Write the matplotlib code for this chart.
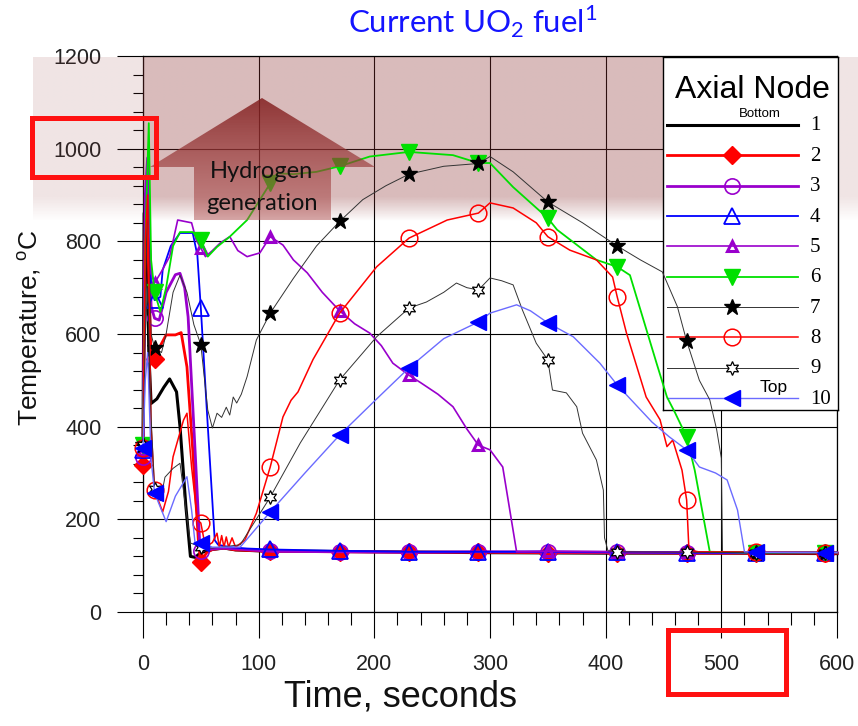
import numpy as np
import matplotlib.pyplot as plt
from matplotlib.patches import Polygon, Rectangle
from matplotlib.lines import Line2D

# time (s) / temperature (C) per axial node
t1 = [0, 1, 3, 5, 7, 12, 18, 23, 29, 32, 37, 41, 45, 50, 60, 70, 80, 100, 200, 300, 400, 500, 600]
T1 = [360, 860, 880, 560, 450, 460, 485, 503, 475, 400, 230, 120, 118, 128, 135, 138, 134, 132, 130, 128, 127, 127, 126]

t2 = [0, 2, 4, 7, 10, 14, 20, 28, 33, 38, 43, 48, 50, 55, 60, 70, 80, 110, 170, 230, 290, 350, 410, 470, 530, 590, 600]
T2 = [317, 860, 820, 545, 545, 570, 598, 598, 603, 529, 350, 149, 108, 128, 135, 138, 134, 131, 130, 129, 129, 128, 128, 127, 127, 127, 127]

t3 = [0, 2, 4, 7, 10, 14, 20, 28, 32, 36, 39, 45, 49, 50, 55, 70, 110, 170, 230, 290, 350, 410, 470, 530, 590, 600]
T3 = [335, 900, 980, 660, 634, 630, 690, 728, 731, 700, 637, 350, 150, 132, 135, 138, 131, 130, 129, 130, 130, 129, 128, 128, 128, 128]

t4 = [0, 2, 4, 7, 10, 15, 17, 24, 32, 43, 47, 50, 55, 62, 65, 75, 90, 110, 170, 230, 290, 350, 410, 470, 530, 590, 600]
T4 = [350, 800, 930, 700, 673, 680, 738, 790, 818, 818, 770, 656, 443, 155, 145, 140, 137, 135, 132, 130, 130, 130, 129, 128, 128, 128, 128]

t5 = [0, 2, 4, 7, 10, 16, 23, 30, 42, 46, 50, 54, 60, 67, 75, 82, 90, 101, 110, 121, 130, 142, 155, 170,
      183, 196, 206, 216, 230, 240, 255, 268, 280, 290, 300, 311, 323, 330, 350, 410, 470, 530, 590, 600]
T5 = [350, 850, 950, 730, 710, 735, 767, 846, 840, 803, 785, 767, 780, 797, 810, 780, 767, 775, 810, 792, 760, 732, 690, 650,
      622, 602, 575, 537, 511, 495, 470, 443, 395, 360, 350, 313, 130, 130, 131, 130, 129, 129, 128, 128]

t6 = [0, 2, 5, 7, 10, 15, 20, 26, 32, 43, 50, 56, 64, 75, 90, 110, 116, 130, 150, 170, 196, 230, 268, 290, 300,
      320, 350, 358, 392, 410, 421, 444, 453, 460, 470, 477, 490, 530, 590, 600]
T6 = [360, 800, 1055, 760, 690, 648, 700, 790, 820, 820, 803, 767, 788, 810, 846, 925, 947, 945, 950, 962, 983, 993, 986, 969, 969,
      917, 850, 825, 760, 745, 727, 537, 464, 430, 378, 306, 130, 128, 128, 128]

t7 = [0, 2, 4, 7, 10, 16, 20, 26, 32, 38, 44, 50, 56, 60, 64, 68, 72, 75, 78, 81, 85, 90, 98, 110, 130, 150, 170, 190,
      210, 230, 260, 290, 300, 320, 350, 380, 410, 430, 449, 462, 470, 481, 490, 496, 500, 501, 530, 590, 600]
T7 = [360, 700, 880, 600, 570, 560, 600, 690, 727, 690, 620, 577, 436, 397, 429, 420, 442, 425, 464, 451, 470, 508, 587, 645, 720, 790, 843, 890,
      920, 945, 962, 968, 983, 950, 885, 840, 790, 760, 734, 659, 585, 500, 458, 393, 332, 130, 128, 127, 127]

t8 = [0, 2, 4, 7, 10, 17, 22, 26, 35, 38, 42, 47, 50, 54, 60, 64, 66, 68, 70, 72, 74, 77, 80, 88, 98, 110, 121, 128, 134, 147,
      170, 202, 230, 263, 290, 300, 320, 340, 350, 369, 392, 406, 410, 418, 435, 447, 453, 458, 466, 470, 472, 480, 530, 590, 600]
T8 = [355, 800, 900, 400, 263, 216, 260, 335, 414, 429, 313, 199, 192, 140, 150, 170, 140, 165, 140, 162, 140, 160, 140, 155, 213, 313, 421, 457, 475, 545,
      645, 745, 807, 846, 861, 883, 872, 840, 810, 781, 760, 723, 680, 602, 464, 415, 357, 371, 306, 242, 134, 130, 129, 128, 128]

t9 = [0, 2, 4, 7, 10, 15, 19, 26, 32, 36, 41, 50, 60, 84, 110, 136, 170, 202, 230, 245, 260, 271, 280, 290, 300, 310,
      320, 328, 340, 350, 354, 366, 375, 380, 392, 398, 399, 402, 410, 470, 530, 590, 600]
T9 = [360, 600, 700, 420, 265, 240, 291, 310, 321, 242, 149, 140, 138, 145, 248, 365, 501, 594, 656, 669, 690, 710, 700, 695, 721, 715,
      706, 652, 580, 544, 479, 473, 443, 386, 328, 263, 160, 132, 130, 129, 128, 128, 128]

t10 = [0, 2, 4, 7, 10, 20, 28, 38, 42, 45, 50, 60, 84, 110, 140, 170, 200, 230, 260, 290, 300, 323, 335, 350, 372, 395,
       410, 440, 455, 470, 481, 495, 505, 514, 520, 530, 590, 600]
T10 = [354, 500, 560, 330, 257, 195, 250, 292, 220, 149, 149, 140, 140, 216, 300, 382, 455, 527, 590, 626, 645, 663, 650, 624, 594, 537,
       490, 410, 378, 350, 313, 300, 285, 220, 130, 129, 128, 128]

times = [t1, t2, t3, t4, t5, t6, t7, t8, t9, t10]
temps = [T1, T2, T3, T4, T5, T6, T7, T8, T9, T10]
node_labels = ['1', '2', '3', '4', '5', '6', '7', '8', '9', '10']
mark_t = [0, 10, 50, 110, 170, 230, 290, 350, 410, 470, 530, 590]

x_ticks = [0, 100, 200, 300, 400, 500, 600]
y_ticks = [0, 200, 400, 600, 800, 1000, 1200]

styles = [
    dict(color='black', lw=2.2, marker=None),
    dict(color='#ff0000', lw=2.0, marker='D', ms=9, mfc='#ff0000', mec='#ff0000'),
    dict(color='#9900cc', lw=2.0, marker='o', ms=11, mfc='none', mec='#9900cc', mew=1.2),
    dict(color='#0000ff', lw=1.3, marker='^', ms=11, mfc='none', mec='#0000ff', mew=1.3),
    dict(color='#9900cc', lw=1.2, marker='^', ms=7, mfc='none', mec='#9900cc', mew=2.2),
    dict(color='#00e000', lw=1.3, marker='v', ms=11, mfc='#00e000', mec='#00e000'),
    dict(color='#333333', lw=0.7, marker='*', ms=12, mfc='black', mec='black'),
    dict(color='#ff0000', lw=1.1, marker='o', ms=12, mfc='none', mec='#ff0000', mew=1.1),
    dict(color='#333333', lw=0.7, marker=(6, 1, 0), ms=10, mfc='white', mec='black', mew=0.9),
    dict(color='#6b6bff', lw=1.0, marker='<', ms=11, mfc='#0000ff', mec='#0000ff'),
]

W, H = 858, 726
fig = plt.figure(figsize=(W / 100, H / 100), dpi=100, facecolor='white')
rect = [143 / W, 1 - 612 / H, (837 - 143) / W, (612 - 56) / H]

# grid / ticks axes at the bottom
ax = fig.add_axes(rect, zorder=0)
ax.set_xlim(0, 600)
ax.set_ylim(0, 1200)
ax.set_xticks(x_ticks)
ax.set_yticks(y_ticks)
ax.set_xticks(np.arange(0, 601, 20), minor=True)
ax.set_yticks(np.arange(0, 1201, 40), minor=True)
ax.grid(True, which='major', color='black', lw=0.8)
ax.tick_params(which='major', direction='out', length=19, width=0.8, pad=11,
               labelsize=15.5, labelcolor='#222222')
ax.tick_params(axis='x', which='minor', direction='out', length=9.5, width=0.8)
ax.tick_params(axis='y', which='minor', direction='out', length=7.5, width=0.8)
for lab in ax.get_xticklabels() + ax.get_yticklabels():
    lab.set_family('Liberation Sans')
for s in ax.spines.values():
    s.set_linewidth(0.9)

def pixel_axes(z):
    a = fig.add_axes([0, 0, 1, 1], zorder=z)
    a.set_xlim(0, W)
    a.set_ylim(H, 0)
    a.axis('off')
    a.patch.set_visible(False)
    return a

# shaded band behind the curves
ovb = pixel_axes(1)

def band(x0, x1, y0, y1, alpha):
    n = 100
    prof = np.ones(n)
    yy = np.linspace(y0, y1, n)
    fade = yy > y1 - 25
    prof[fade] = (y1 - yy[fade]) / 25
    img = np.zeros((n, 2, 4))
    img[..., 0] = 140 / 255
    img[..., 1] = 50 / 255
    img[..., 2] = 50 / 255
    img[..., 3] = (alpha * prof)[:, None]
    ovb.imshow(img, extent=(x0, x1, y1, y0), aspect='auto', interpolation='bilinear')

band(33, 858, 57, 222, 0.13)
band(143, 837, 57, 222, 0.23)

# legend box drawn by hand (under the curves, over the grid)
lg = fig.add_axes([663 / W, 1 - 410 / H, 175 / W, 353 / H], zorder=2)
lg.set_xlim(663, 838)
lg.set_ylim(410, 57)
lg.set_xticks([])
lg.set_yticks([])
lg.set_facecolor('white')
for s in lg.spines.values():
    s.set_linewidth(1.0)
lg.text(752, 90, 'Axial Node', ha='center', va='center', fontsize=23, family='Liberation Sans')
ys = np.linspace(125, 398, 10)
for yv, st, lab in zip(ys, styles, node_labels):
    lg.add_line(Line2D([667, 798], [yv, yv], color=st['color'], lw=st['lw']))
    if st['marker']:
        lg.plot([732], [yv], ls='none', marker=st['marker'], ms=st['ms'], mfc=st['mfc'],
                mec=st['mec'], mew=st.get('mew', 1.0))
    lg.text(810, yv + 1, lab, ha='left', va='center', fontsize=15, family='Liberation Serif')
lg.text(760, 114, 'Bottom', ha='center', va='center', fontsize=9.5, family='Liberation Sans')
lg.text(774, 387, 'Top', ha='center', va='center', fontsize=12.5, family='Liberation Sans')

# curves on top of legend
axd = fig.add_axes(rect, zorder=3)
axd.set_xlim(0, 600)
axd.set_ylim(0, 1200)
axd.axis('off')
axd.patch.set_visible(False)
for t, T, st in zip(times, temps, styles):
    t = np.array(t)
    me = np.isin(t, mark_t) if st['marker'] else None
    axd.plot(t, T, markevery=me, clip_on=False, **st)

# hydrogen arrow, red boxes, texts
ov = pixel_axes(4)
arrow_xy = [(262, 98), (375, 167), (331, 167), (331, 220), (194, 220), (194, 167), (150, 167)]
poly = Polygon(arrow_xy, closed=True, fc='none', ec='none')
ov.add_patch(poly)
g = np.zeros((100, 2, 4))
f = np.linspace(0, 1, 100)[:, None]
g[..., 0] = (130 + 45 * f) / 255
g[..., 1] = (30 + 50 * f) / 255
g[..., 2] = (30 + 50 * f) / 255
g[..., 3] = 0.85 - 0.35 * f
im = ov.imshow(g, extent=(150, 375, 220, 98), aspect='auto', interpolation='bilinear', zorder=2)
im.set_clip_path(poly)
ov.text(262, 172, 'Hydrogen', ha='center', va='center', fontsize=17, family='Lato', color='#111111', zorder=3)
ov.text(262, 204, 'generation', ha='center', va='center', fontsize=17, family='Lato', color='#111111', zorder=3)

ov.add_patch(Rectangle((32, 118), 124, 59, fill=False, ec='#ff1111', lw=3.6, zorder=4))
ov.add_patch(Rectangle((668, 630), 118, 64, fill=False, ec='#ff1111', lw=3.6, zorder=4))

ov.text(473, 22, 'Current UO$_\\mathregular{2}$ fuel$^\\mathregular{1}$', ha='center', va='center',
        fontsize=22.5, family='Lato', color='#1414ff')
ov.text(30, 328, 'Temperature, $^\\mathregular{o}$C', ha='center', va='center', rotation=90,
        fontsize=19, family='Liberation Sans', color='#111111')
ov.text(400, 697, 'Time, seconds', ha='center', va='center',
        fontsize=26, family='Liberation Sans', color='#111111')

fig.savefig('out.png', dpi=100)
